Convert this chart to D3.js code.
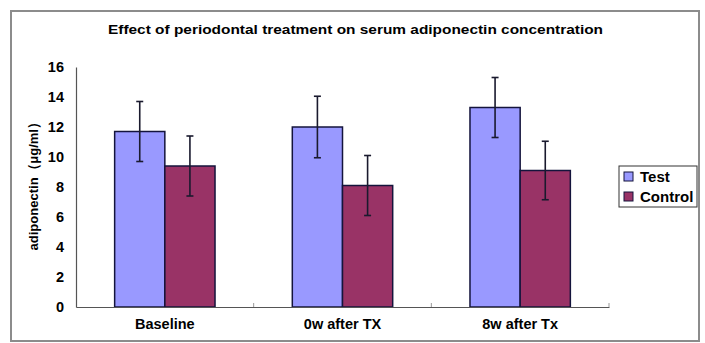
<!DOCTYPE html>
<html lang="en">
<head>
<meta charset="UTF-8">
<title>Adiponectin</title>
<script src="https://cdn.jsdelivr.net/npm/d3@7"></script>
<style>
  body { margin: 0; background: #fff; }
  text { font-family: "Liberation Sans", Arial, sans-serif; font-weight: bold; fill: #000; }
</style>
</head>
<body>
<svg width="705" height="343"></svg>
<script>
var categories = ['Baseline', '0w after TX', '8w after Tx'];
var series = ['Test', 'Control'];
var testValues = [11.7, 12.0, 13.3];
var controlValues = [9.4, 8.1, 9.1];
var testErr = [2.0, 2.05, 2.0];
var controlErr = [2.0, 2.0, 1.95];
var yTicks = [0, 2, 4, 6, 8, 10, 12, 14, 16];

var colors = { Test: '#9999ff', Control: '#993366' };

var svg = d3.select('svg');

// outer chart frame
svg.append('rect')
    .attr('x', 11).attr('y', 11)
    .attr('width', 688).attr('height', 330)
    .attr('fill', '#fff')
    .attr('stroke', '#8c8c8c')
    .attr('stroke-width', 2);

svg.append('text')
    .attr('x', 108).attr('y', 34)
    .attr('textLength', 495)
    .attr('lengthAdjust', 'spacingAndGlyphs')
    .style('font-size', '13.5px')
    .text('Effect of periodontal treatment on serum adiponectin concentration');

var x = d3.scaleBand().domain(categories).range([76, 609]);
var x1 = d3.scaleBand().domain(series).range([0, x.bandwidth()]).paddingOuter(0.77);
var y = d3.scaleLinear().domain([0, 16]).range([307, 67]);

var rows = categories.map(function (c, i) {
    return [
        { cat: c, key: 'Test', v: testValues[i], e: testErr[i] },
        { cat: c, key: 'Control', v: controlValues[i], e: controlErr[i] }
    ];
});
var flat = [].concat.apply([], rows);

// y axis
var gy = svg.append('g').attr('transform', 'translate(76,0)')
    .call(d3.axisLeft(y).tickValues(yTicks).tickSize(0).tickPadding(12));
gy.select('.domain').attr('stroke', '#555').attr('stroke-width', 1.2);
gy.selectAll('text').style('font-size', '14.5px').style('font-family', '"Liberation Sans", Arial, sans-serif');

// bars
svg.append('g').selectAll('rect').data(flat).enter().append('rect')
    .attr('x', function (d) { return x(d.cat) + x1(d.key); })
    .attr('y', function (d) { return y(d.v); })
    .attr('width', x1.bandwidth())
    .attr('height', function (d) { return y(0) - y(d.v); })
    .attr('fill', function (d) { return colors[d.key]; })
    .attr('stroke', '#14143c')
    .attr('stroke-width', 1.5);

// error bars
var eb = svg.append('g').selectAll('g').data(flat).enter().append('g')
    .attr('stroke', '#1a1a2e').attr('stroke-width', 1.6);
eb.append('line')
    .attr('x1', function (d) { return x(d.cat) + x1(d.key) + x1.bandwidth() / 2; })
    .attr('x2', function (d) { return x(d.cat) + x1(d.key) + x1.bandwidth() / 2; })
    .attr('y1', function (d) { return y(d.v + d.e); })
    .attr('y2', function (d) { return y(d.v - d.e); });
[1, -1].forEach(function (s) {
    eb.append('line')
        .attr('x1', function (d) { return x(d.cat) + x1(d.key) + x1.bandwidth() / 2 - 3.5; })
        .attr('x2', function (d) { return x(d.cat) + x1(d.key) + x1.bandwidth() / 2 + 3.5; })
        .attr('y1', function (d) { return y(d.v + s * d.e); })
        .attr('y2', function (d) { return y(d.v + s * d.e); });
});

// x axis
var gx = svg.append('g').attr('transform', 'translate(0,307)')
    .call(d3.axisBottom(x).tickSize(0).tickPadding(12));
gx.select('.domain').attr('stroke', '#555').attr('stroke-width', 1.2);
gx.selectAll('text').style('font-size', '14.5px').style('font-family', '"Liberation Sans", Arial, sans-serif');
// boundary tick marks between categories
var bounds = categories.map(function (c) { return x(c) + x.bandwidth(); });
svg.append('g').selectAll('line').data(bounds).enter().append('line')
    .attr('x1', function (d) { return d; }).attr('x2', function (d) { return d; })
    .attr('y1', 307).attr('y2', 303)
    .attr('stroke', '#999').attr('stroke-width', 1);

// y axis title
svg.append('text')
    .attr('transform', 'translate(38,183) rotate(-90)')
    .attr('text-anchor', 'middle')
    .attr('textLength', 135)
    .attr('lengthAdjust', 'spacingAndGlyphs')
    .style('font-size', '13.5px')
    .text('adiponectin（μg/ml）');

// legend
var lg = svg.append('g').attr('transform', 'translate(619,166)');
lg.append('rect').attr('width', 78).attr('height', 41)
    .attr('fill', '#fff').attr('stroke', '#333').attr('stroke-width', 1);
var li = lg.selectAll('g.item').data(series).enter().append('g')
    .attr('class', 'item')
    .attr('transform', function (d, i) { return 'translate(5,' + (6 + i * 20) + ')'; });
li.append('rect').attr('width', 9).attr('height', 9)
    .attr('fill', function (d) { return colors[d]; })
    .attr('stroke', '#14143c').attr('stroke-width', 1);
li.append('text').attr('x', 16).attr('y', 10)
    .style('font-size', '15px')
    .text(function (d) { return d; });
</script>
</body>
</html>
